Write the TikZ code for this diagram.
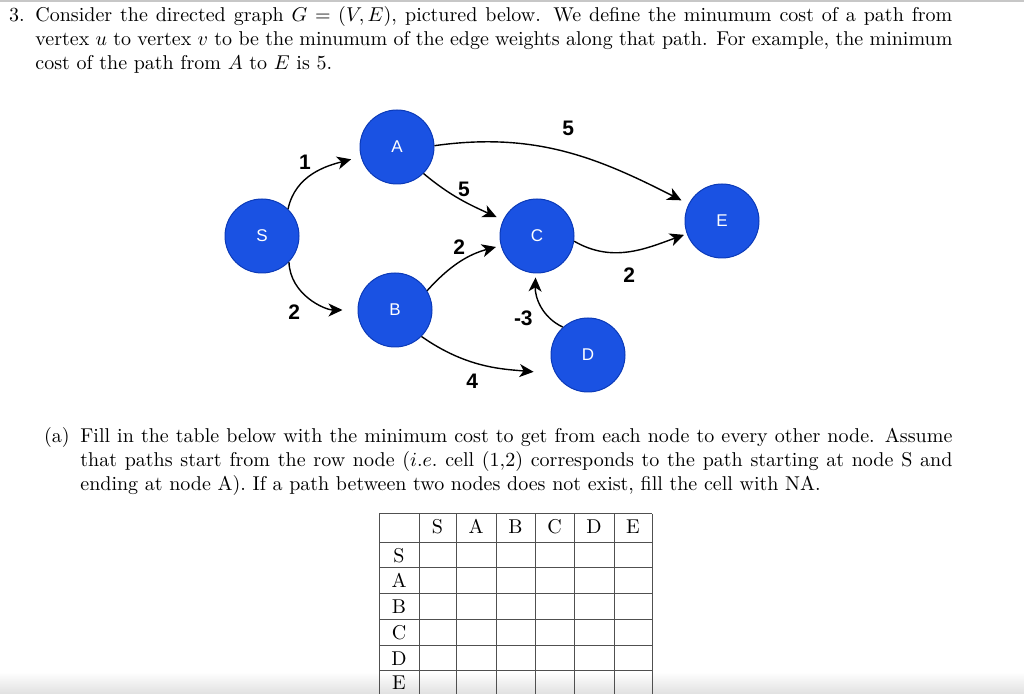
\documentclass[tikz,border=0pt]{standalone}
\usepackage{fontspec}
\usepackage{tikz}
\usetikzlibrary{automata, positioning, arrows.meta}
\newfontfamily\graphfont{Liberation Sans}
\definecolor{nodefill}{HTML}{1A52E3}
\definecolor{nodeline}{HTML}{0B3AB8}
\definecolor{gridline}{HTML}{505050}

\begin{document}
\begin{tikzpicture}[x=0.5pt,y=-0.5pt,
  every state/.style={draw=nodeline,line width=0.5pt,fill=nodefill,minimum size=37pt,
                       inner sep=0pt,text=white,font=\graphfont\fontsize{8.5}{10}\selectfont},
  wt/.style={font=\graphfont\bfseries\fontsize{10.5}{12}\selectfont,inner sep=1pt},
  conn/.style={-{Stealth[length=7pt,width=6.5pt,inset=2pt]},line width=0.7pt},
  para/.style={text width=458.5pt,align=justify,inner sep=0pt,anchor=base west}]
  \useasboundingbox (0,0) rectangle (1024,694);
  \fill[black!22] (0,0) rectangle (1024,2);
  \shade[top color=white,bottom color=black!12] (0,672) rectangle (1024,694);

  % question text
  \node[anchor=base east,inner sep=0pt] (qnum) at (25,22) {3.};
  \node[para] (qtext) at (35,22) {Consider the directed graph $G=(V,E)$, pictured below. We define the minumum cost of a path from\linebreak
    vertex $u$ to vertex $v$ to be the minumum of the edge weights along that path. For example, the minimum\linebreak
    cost of the path from $A$ to $E$ is 5.};

  % graph
  \node[state] (S) at (262,236) {S};
  \node[state] (A) at (397,147) {A};
  \node[state] (B) at (395,310) {B};
  \node[state] (C) at (537,236) {C};
  \node[state] (D) at (588,355) {D};
  \node[state] (E) at (722,221) {E};
  \path[conn]
        (S.46) edge[out=78,in=195,shorten >=5pt] node[wt,pos=0.3,above left,xshift=6.5pt,yshift=6pt] (w1) {1} (A)
        (S.-44) edge[out=-88,in=180,shorten >=7.5pt] node[wt,pos=0.45,below left,xshift=-2.5pt,yshift=-3pt] (w2) {2} (B)
        (A.2) edge[out=8,in=153,shorten >=4pt] node[wt,pos=0.5,above=4pt,xshift=1.5pt,yshift=3pt] (w3) {5} (E)
        (A.-45) edge[out=-40,in=155,shorten >=3.5pt] node[wt,pos=0.5,above right=0pt,xshift=-3pt] (w4) {5} (C)
        (B.31) edge[out=48,in=195,shorten >=2.5pt] node[wt,pos=0.5,above left=1pt,xshift=4.5pt,yshift=1.5pt] (w5) {2} (C)
        (C.-8) edge[out=-30,in=200,shorten >=1.5pt] node[wt,pos=0.5,below=7pt] (w6) {2} (E)
        (B.-45) edge[out=-35,in=175,shorten >=11pt] node[wt,pos=0.4,below=5pt] (w7) {4} (D.210)
        (D.132) edge[out=155,in=268,shorten >=2pt] node[wt,pos=0.45,left=2pt,xshift=-1.5pt,yshift=-5pt] (w8) {-3} (C);

  % part (a)
  \node[anchor=base east,inner sep=0pt] (plbl) at (70,443) {(a)};
  \node[para,text width=436pt] (ptext) at (80,443) {Fill in the table below with the minimum cost to get from each node to every other node. Assume\linebreak
    that paths start from the row node ($i.e.$ cell (1,2) corresponds to the path starting at node S and\linebreak
    ending at node A). If a path between two nodes does not exist, fill the cell with NA.};

  % table
  \foreach \y in {514,543,568,594,620,646,671}
    \draw[gridline,line width=0.5pt] (379,\y) -- (652,\y);
  \foreach \x in {379,419,456,496,535,574,614,652}
    \draw[gridline,line width=0.5pt] (\x,514) -- (\x,694);
  \foreach \x/\l in {437.5/S,476/A,515.5/B,554.5/C,594/D,633/E}
    \node[anchor=base,inner sep=0pt] (col\l) at (\x,534) {\l};
  \foreach \y/\l in {562.5/S,588/A,614/B,640/C,665.5/D,690/E}
    \node[anchor=base,inner sep=0pt] (row\l) at (399,\y) {\l};
\end{tikzpicture}
\end{document}
